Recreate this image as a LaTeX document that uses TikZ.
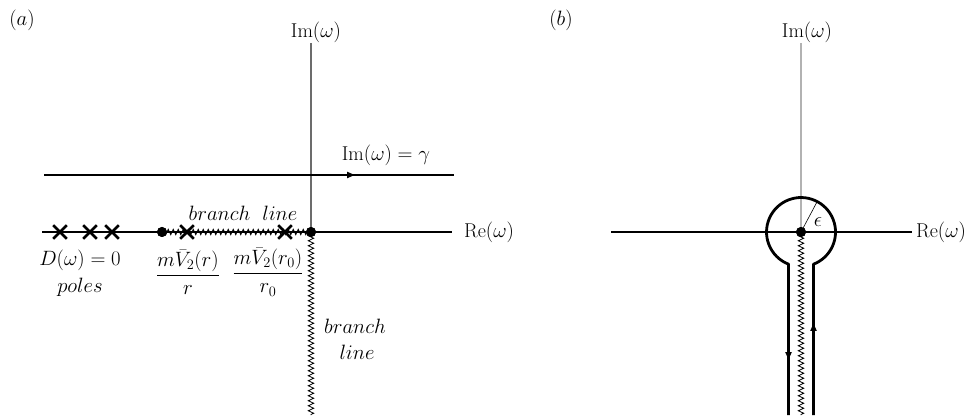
\documentclass[tikz,border=0pt]{standalone}
\usepackage{amsmath}
\usepackage{fontspec}
\usetikzlibrary{decorations.pathmorphing,decorations.markings,shapes.misc,arrows.meta}
\begin{document}
\begin{tikzpicture}[x=1pt,y=1pt,
  every node/.style={font=\fontsize{20}{24}\selectfont, inner sep=0pt},
  axisline/.style={line width=1.1pt, black},
  imaxis/.style={line width=1.1pt, gray!85!black},
  imaxisb/.style={line width=1.3pt, black!30},
  thickpath/.style={line width=2.8pt, black},
  zig/.style={line width=0.8pt, decorate, decoration={zigzag, segment length=5pt, amplitude=2.7pt}},
  dotnode/.style={circle, fill=black, minimum size=10pt, inner sep=0pt},
  polenode/.style={draw, cross out, line width=2.6pt, minimum size=11pt, inner sep=0pt},
  tipmark/.style={-{Triangle[length=8pt,width=6pt]}},
]
\useasboundingbox (0,0) rectangle (974,415);

% ---------------- panel (a) ----------------
\node (la) at (22,395) {$(a)$};
\coordinate (aTop) at (311,372);
\coordinate (aBot) at (311,0);
\coordinate (aReL) at (42,183);
\coordinate (aReR) at (452,183);
\coordinate (gL) at (44,240);
\coordinate (gR) at (454,240);
\coordinate (gM) at (355,240);

\node (imA) at (316,383) {$\mathrm{Im}(\omega)$};
\node (reA) [anchor=west] at (464,183) {$\mathrm{Re}(\omega)$};
\node (gam) at (386,260) {$\mathrm{Im}(\omega) = \gamma$};

\draw[axisline] (aReL) -- (aReR);
\draw[imaxis] (aTop) -- (311,183);
\draw[thickpath] (gL) -- (gR);
\draw[thickpath, tipmark] (gL) -- (gM);

\node[dotnode] (O) at (311,183) {};
\node[dotnode] (Bp) at (162,183) {};
\draw[zig] (Bp.center) -- (O.center);
\draw[zig] (O.center) -- (aBot);
\node[dotnode] at (O) {};
\node[dotnode] at (Bp) {};

\node[polenode] (p1) at (60,183) {};
\node[polenode] (p2) at (90,183) {};
\node[polenode] (p3) at (112,183) {};
\node[polenode] (p4) at (187,183) {};
\node[polenode] (p5) at (285,183) {};

\node (bl1) at (243,202) {$branch\ \ line$};
\node (Dw) at (80,155) {$D(\omega) = 0$};
\node (poles) at (80,128) {$poles$};
\node (f1) at (188,143) {$\dfrac{m\bar{V}_2(r)}{r}$};
\node (f2) at (268,143) {$\dfrac{m\bar{V}_2(r_0)}{r_0}$};
\node (bl2) at (355,89) {$branch$};
\node (bl3) at (357,63) {$line$};

% ---------------- panel (b) ----------------
\node (lb) at (561,395) {$(b)$};
\coordinate (bTop) at (801,372);
\coordinate (bReL) at (611,183);
\coordinate (bReR) at (912,183);
\coordinate (bBot) at (801,0);
\coordinate (kR0) at (813.5,0);
\coordinate (kR1) at (813.5,150.8);
\coordinate (kL0) at (788.5,0);
\coordinate (kR2) at (813.5,92);
\coordinate (kL1) at (788.5,150.8);
\coordinate (kL2) at (788.5,55);

\node (imB) at (807,383) {$\mathrm{Im}(\omega)$};
\node (reB) [anchor=west] at (916,183) {$\mathrm{Re}(\omega)$};

\draw[imaxisb] (bTop) -- (801,183);
\draw[axisline] (bReL) -- (bReR);

\node[dotnode] (C) at (801,183) {};
\draw[zig] (C.center) -- (bBot);
\draw[line width=0.6pt] (C.center) -- ++(62:34.5);
\node (epsl) at (818,193) {$\epsilon$};

\draw[thickpath, line join=round] (kR0) -- (kR1)
   arc[start angle=-68.8, end angle=248.8, radius=34.5] -- (kL0);
\draw[thickpath, tipmark] (kR0) -- (kR2);
\draw[thickpath, tipmark] (kL1) -- (kL2);
\node[dotnode] at (C) {};
\end{tikzpicture}
\end{document}
